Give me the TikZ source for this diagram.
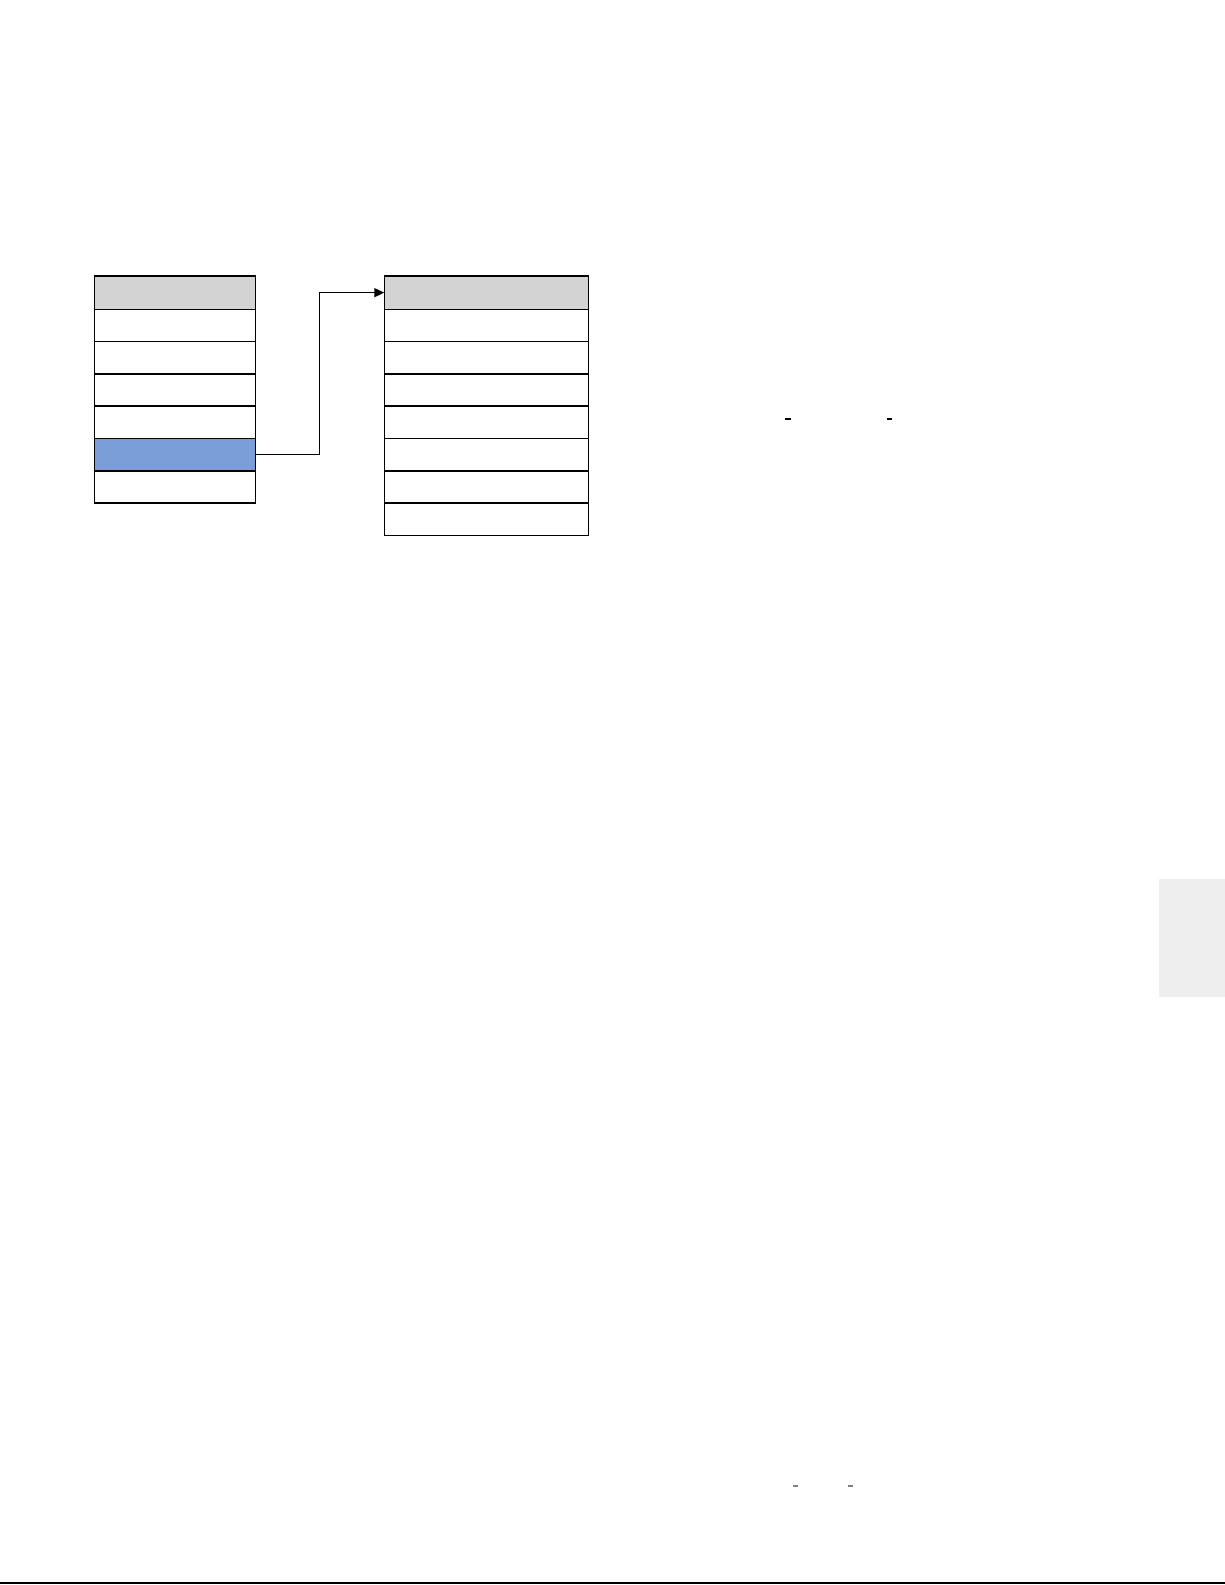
\documentclass[tikz,border=0pt]{standalone}
\usepackage{xcolor}
\usetikzlibrary{positioning,arrows.meta}
\definecolor{hdrgray}{RGB}{211,211,211}
\definecolor{selblue}{RGB}{123,158,216}
\definecolor{tabgray}{RGB}{238,238,238}
\tikzstyle{cell} = [draw, line width=0.4pt, inner sep=0pt, outer sep=0pt, minimum height=0.323cm]
\tikzstyle{lcell} = [cell, minimum width=1.614cm]
\tikzstyle{rcell} = [cell, minimum width=2.04cm]
\tikzstyle{arrow} = [line width=0.4pt, -{Triangle[length=1mm,width=0.9mm]}]

\begin{document}
\begin{tikzpicture}
        \useasboundingbox (0,0) rectangle (12.25,-15.85);

        % left table
        \node[lcell, fill=hdrgray, minimum height=0.333cm, anchor=north west] (L0) at (0.943,-2.76) {};
        \node[lcell, below=0pt of L0] (L1) {};
        \node[lcell, below=0pt of L1] (L2) {};
        \node[lcell, below=0pt of L2] (L3) {};
        \node[lcell, below=0pt of L3] (L4) {};
        \node[lcell, fill=selblue, below=0pt of L4] (L5) {};
        \node[lcell, below=0pt of L5] (L6) {};

        % right table
        \node[rcell, fill=hdrgray, minimum height=0.333cm, anchor=north west] (R0) at (3.843,-2.76) {};
        \node[rcell, below=0pt of R0] (R1) {};
        \node[rcell, below=0pt of R1] (R2) {};
        \node[rcell, below=0pt of R2] (R3) {};
        \node[rcell, below=0pt of R3] (R4) {};
        \node[rcell, below=0pt of R4] (R5) {};
        \node[rcell, below=0pt of R5] (R6) {};
        \node[rcell, below=0pt of R6] (R7) {};

        % Draw Arrow
        \coordinate (bend) at (3.193,0 |- L5.east);
        \draw[arrow] (L5.east) -- (bend) |- (R0.west);

        % small marks
        \draw[line width=0.3pt] (7.85,-4.19) -- (7.91,-4.19);
        \draw[line width=0.3pt] (8.87,-4.19) -- (8.92,-4.19);
        \draw[gray, line width=0.3pt] (7.93,-14.86) -- (7.98,-14.86);
        \draw[gray, line width=0.3pt] (8.48,-14.86) -- (8.53,-14.86);

        % side tab and rule
        \fill[tabgray] (11.59,-8.79) rectangle (12.25,-9.97);
        \draw[line width=0.6pt] (0,-15.83) -- (12.25,-15.83);
\end{tikzpicture}
\end{document}
